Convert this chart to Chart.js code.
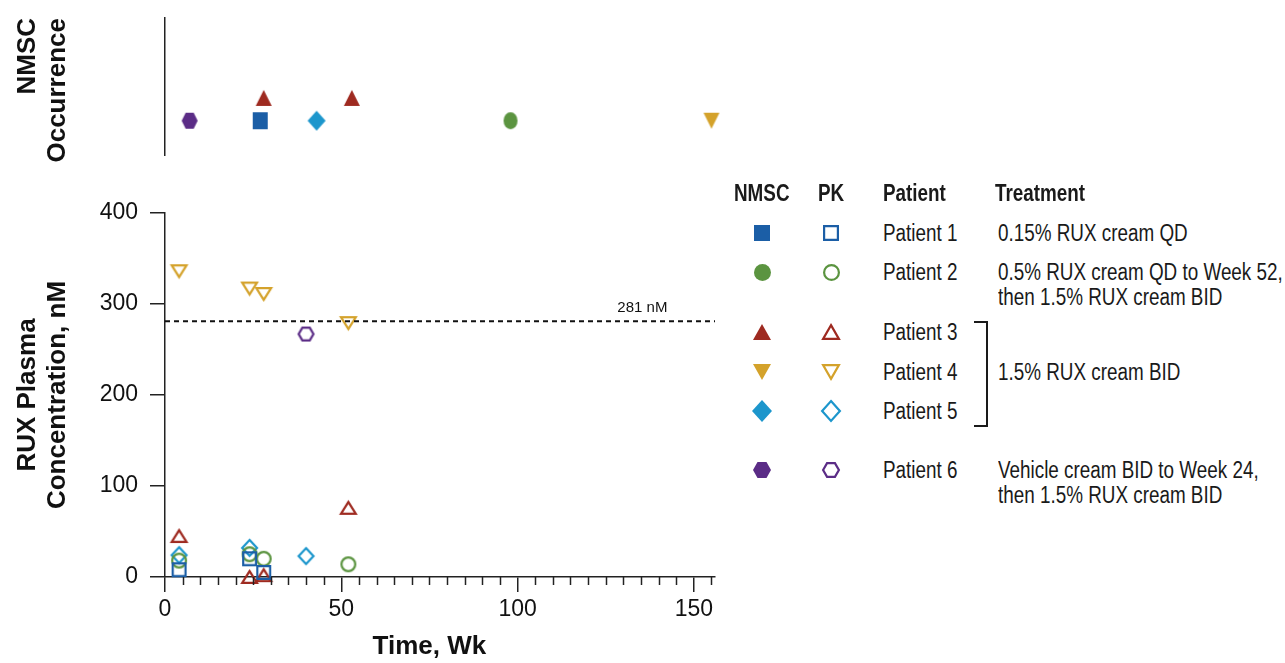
<!DOCTYPE html>
<html>
<head>
<meta charset="utf-8">
<script src="https://cdn.jsdelivr.net/npm/chart.js@4.4.1/dist/chart.umd.min.js"></script>
<style>
  body { margin: 0; background: #fff; width: 1285px; height: 663px; overflow: hidden; position: relative;
         font-family: 'Liberation Sans', Arial, sans-serif; color: #1a1a1a; }
  #topChart { position: absolute; left: 0; top: 0; }
  #pkChart { position: absolute; left: 0; top: 180px; }
  /* the original legend uses a condensed face; squeeze the regular one */
  .lg { position: absolute; white-space: nowrap; font-size: 23px; line-height: 25px;
        transform: scaleX(0.82); transform-origin: 0 50%; }
  .hd { font-weight: bold; }
  .sym { position: absolute; }
  .brk { position: absolute; background: #1a1a1a; }
</style>
</head>
<body>
<canvas id="topChart" width="740" height="180"></canvas>
<canvas id="pkChart" width="740" height="483"></canvas>
<div id="legend"></div>
<script>
// axes
const xMin = 0;
const xMax = 156;
const xLabelEvery = 50;
const xTitle = 'Time, Wk';
const xTitleAt = 75;   // title sits under the 0-150 span, not the whole axis
const yMax = 400;
const yStep = 100;
const thresholdNm = 281;
const thresholdLabel = '281 nM';

// patients
const patientNames = ['Patient 1', 'Patient 2', 'Patient 3', 'Patient 4', 'Patient 5', 'Patient 6'];
const patientColors = ['#1b5ea6', '#5b9440', '#9e2a20', '#d4a22b', '#1c96cc', '#5b2c86'];
const patientShapes = ['square', 'circle', 'triUp', 'triDown', 'diamond', 'hexagon'];
const treatments = [
    ['0.15% RUX cream QD'],
    ['0.5% RUX cream QD to Week 52,', 'then 1.5% RUX cream BID'],
    [],
    ['1.5% RUX cream BID'],
    [],
    ['Vehicle cream BID to Week 24,', 'then 1.5% RUX cream BID']
];

// NMSC occurrence (week), row 2 only keeps patient 3 apart from the others
const nmscWeeks = [[27], [98], [28, 53], [155], [43], [7]];
const nmscRow = [1.5, 1.5, 2.5, 1.5, 1.5, 1.5];

// RUX plasma concentration (nM) by week
const pkWeeks1 = [4, 24, 28];
const pkConc1 = [8, 20, 5];
const pkWeeks2 = [4, 24, 28, 52];
const pkConc2 = [18, 25, 20, 14];
const pkWeeks3 = [4, 24, 28, 52];
const pkConc3 = [45, 0, 2, 76];
const pkWeeks4 = [4, 24, 28, 52];
const pkConc4 = [336, 317, 311, 279];
const pkWeeks5 = [4, 24, 40];
const pkConc5 = [24, 32, 23];
const pkWeeks6 = [40];
const pkConc6 = [267];

const pkWeeks = [pkWeeks1, pkWeeks2, pkWeeks3, pkWeeks4, pkWeeks5, pkWeeks6];
const pkConc = [pkConc1, pkConc2, pkConc3, pkConc4, pkConc5, pkConc6];

const axisColor = '#222';
const fontFamily = "'Liberation Sans', Arial, sans-serif";

// marker pictures, used as pointStyle
function makeMarker(shape, color, filled, w, h) {
    const lw = 2.2;
    const c = document.createElement('canvas');
    c.width = Math.ceil(w) + 8;
    c.height = Math.ceil(h) + 8;
    const g = c.getContext('2d');
    g.translate(c.width / 2, c.height / 2);
    const a = (filled ? w : w - lw) / 2;
    const b = (filled ? h : h - lw) / 2;
    g.beginPath();
    if (shape === 'square') {
        g.rect(-a, -b, 2 * a, 2 * b);
    } else if (shape === 'circle') {
        g.ellipse(0, 0, a, b, 0, 0, Math.PI * 2);
    } else if (shape === 'triUp') {
        g.moveTo(0, -b); g.lineTo(a, b); g.lineTo(-a, b);
    } else if (shape === 'triDown') {
        g.moveTo(0, b); g.lineTo(a, -b); g.lineTo(-a, -b);
    } else if (shape === 'diamond') {
        g.moveTo(0, -b); g.lineTo(a, 0); g.lineTo(0, b); g.lineTo(-a, 0);
    } else {
        g.moveTo(-a, 0); g.lineTo(-a / 2, -b); g.lineTo(a / 2, -b);
        g.lineTo(a, 0); g.lineTo(a / 2, b); g.lineTo(-a / 2, b);
    }
    g.closePath();
    if (filled) {
        g.fillStyle = color;
        g.fill();
    } else {
        g.strokeStyle = color;
        g.lineWidth = lw;
        g.stroke();
    }
    return c;
}

const pkSize = { square: [15, 15], circle: [16, 16], triUp: [17, 14], triDown: [17, 14], diamond: [17, 18], hexagon: [17, 15] };
const nmscSize = { square: [15, 17], circle: [14, 17], triUp: [16, 16], triDown: [16, 16], diamond: [18, 20], hexagon: [16, 16] };
const legendSize = { square: [16, 16], circle: [17, 17], triUp: [18, 16], triDown: [18, 16], diamond: [20, 22], hexagon: [18, 16] };

// NMSC panel
const nmscDatasets = patientNames.map((name, i) => {
    const s = nmscSize[patientShapes[i]];
    return {
        label: name,
        data: nmscWeeks[i].map(w => ({ x: w, y: nmscRow[i] })),
        pointStyle: makeMarker(patientShapes[i], patientColors[i], true, s[0], s[1]),
        pointRadius: 9,
        clip: false
    };
});

new Chart(document.getElementById('topChart'), {
    type: 'scatter',
    data: { datasets: nmscDatasets },
    options: {
        responsive: false,
        animation: false,
        layout: { padding: { top: 18, right: 25, bottom: 25, left: 0 } },
        plugins: { legend: { display: false }, tooltip: { enabled: false } },
        scales: {
            x: { type: 'linear', min: xMin, max: xMax, display: false },
            y: {
                min: 0, max: 6,
                afterFit: (scale) => { scale.width = 165; },
                ticks: { display: false },
                grid: { display: false },
                border: { display: true, color: axisColor, width: 1.5 },
                title: {
                    display: true,
                    text: ['NMSC', 'Occurrence'],
                    align: 'end',
                    color: '#111',
                    padding: { top: 13 },
                    font: { family: fontFamily, size: 26, weight: 'bold', lineHeight: 1.15 }
                }
            }
        }
    }
});

// PK panel
const pkDatasets = patientNames.map((name, i) => {
    const s = pkSize[patientShapes[i]];
    return {
        label: name,
        data: pkWeeks[i].map((w, k) => ({ x: w, y: pkConc[i][k] })),
        pointStyle: makeMarker(patientShapes[i], patientColors[i], false, s[0], s[1]),
        pointRadius: 9,
        clip: false
    };
});
pkDatasets.unshift({
    type: 'line',
    label: thresholdLabel,
    data: [{ x: xMin, y: thresholdNm }, { x: xMax, y: thresholdNm }],
    borderColor: '#111',
    borderWidth: 2,
    borderDash: [5, 4],
    pointRadius: 0
});

// minor x ticks, threshold label and x title
const pkExtras = {
    id: 'pkExtras',
    afterDraw(chart) {
        const { ctx, scales: { x, y } } = chart;
        ctx.save();
        ctx.strokeStyle = axisColor;
        ctx.lineWidth = 1.5;
        x.ticks.forEach(t => {
            if (t.value % xLabelEvery === 0) return;
            const px = Math.round(x.getPixelForValue(t.value)) + 0.5;
            ctx.beginPath();
            ctx.moveTo(px, y.bottom);
            ctx.lineTo(px, y.bottom + 8);
            ctx.stroke();
        });
        ctx.fillStyle = '#111';
        ctx.font = '15px ' + fontFamily;
        ctx.textAlign = 'right';
        ctx.textBaseline = 'bottom';
        ctx.fillText(thresholdLabel, x.getPixelForValue(142.5), y.getPixelForValue(thresholdNm) - 6);

        ctx.font = 'bold 26px ' + fontFamily;
        ctx.textAlign = 'center';
        ctx.textBaseline = 'middle';
        ctx.fillText(xTitle, x.getPixelForValue(xTitleAt), x.bottom - 16);
        ctx.restore();
    }
};

new Chart(document.getElementById('pkChart'), {
    type: 'scatter',
    data: { datasets: pkDatasets },
    plugins: [pkExtras],
    options: {
        responsive: false,
        animation: false,
        layout: { padding: { top: 33, right: 25, bottom: 0, left: 0 } },
        plugins: { legend: { display: false }, tooltip: { enabled: false } },
        scales: {
            x: {
                type: 'linear', min: xMin, max: xMax,
                afterFit: (scale) => { scale.height = 86; },
                afterBuildTicks: (scale) => {
                    scale.ticks = [];
                    for (let v = xMin; v <= xMax; v += 5) scale.ticks.push({ value: v });
                },
                ticks: {
                    autoSkip: false, maxRotation: 0, padding: 4, color: '#111',
                    font: { family: fontFamily, size: 23 },
                    callback: (v) => (v % xLabelEvery === 0 ? String(v) : '')
                },
                grid: {
                    drawOnChartArea: false, tickLength: 15, lineWidth: 1.5,
                    tickColor: (c) => (c.tick && c.tick.value % xLabelEvery === 0 ? axisColor : 'rgba(0,0,0,0)')
                },
                border: { color: axisColor, width: 1.5 }
            },
            y: {
                min: 0, max: yMax,
                afterFit: (scale) => { scale.width = 165; },
                ticks: { stepSize: yStep, padding: 12, color: '#111', font: { family: fontFamily, size: 23 } },
                grid: { drawOnChartArea: false, tickLength: 15, lineWidth: 1.5, tickColor: axisColor },
                border: { color: axisColor, width: 1.5 },
                title: {
                    display: true, text: ['RUX Plasma', 'Concentration, nM'], color: '#111',
                    padding: { top: 13 },
                    font: { family: fontFamily, size: 26, weight: 'bold', lineHeight: 1.15 }
                }
            }
        }
    }
});

// legend table
const legend = document.getElementById('legend');
const rowY = [233, 272, 332, 372, 411, 470];
const colNmsc = 762, colPk = 831, colName = 883, colTreat = 998;
const squeeze = 0.82;

function addText(text, x, y, cls, center) {
    const d = document.createElement('div');
    d.className = 'lg ' + (cls || '');
    d.textContent = text;
    d.style.top = (y - 12.5) + 'px';
    legend.appendChild(d);
    if (center) d.style.left = (x - d.offsetWidth * squeeze / 2) + 'px';
    else d.style.left = x + 'px';
}
function addSymbol(cv, x, y) {
    cv.className = 'sym';
    cv.style.left = (x - cv.width / 2) + 'px';
    cv.style.top = (y - cv.height / 2) + 'px';
    legend.appendChild(cv);
}

addText('NMSC', colNmsc, 193, 'hd', true);
addText('PK', colPk, 193, 'hd', true);
addText('Patient', colName, 193, 'hd');
addText('Treatment', 995, 193, 'hd');

patientNames.forEach((name, i) => {
    const s = legendSize[patientShapes[i]];
    addSymbol(makeMarker(patientShapes[i], patientColors[i], true, s[0], s[1]), colNmsc, rowY[i]);
    addSymbol(makeMarker(patientShapes[i], patientColors[i], false, s[0], s[1]), colPk, rowY[i]);
    addText(name, colName, rowY[i]);
    treatments[i].forEach((line, k) => addText(line, colTreat, rowY[i] + k * 25));
});

// bracket around patients 3-5
function addBar(l, t, w, h) {
    const d = document.createElement('div');
    d.className = 'brk';
    d.style.left = l + 'px'; d.style.top = t + 'px';
    d.style.width = w + 'px'; d.style.height = h + 'px';
    legend.appendChild(d);
}
addBar(986, 321, 2, 106);
addBar(974, 321, 14, 2);
addBar(974, 425, 14, 2);
</script>
</body>
</html>
